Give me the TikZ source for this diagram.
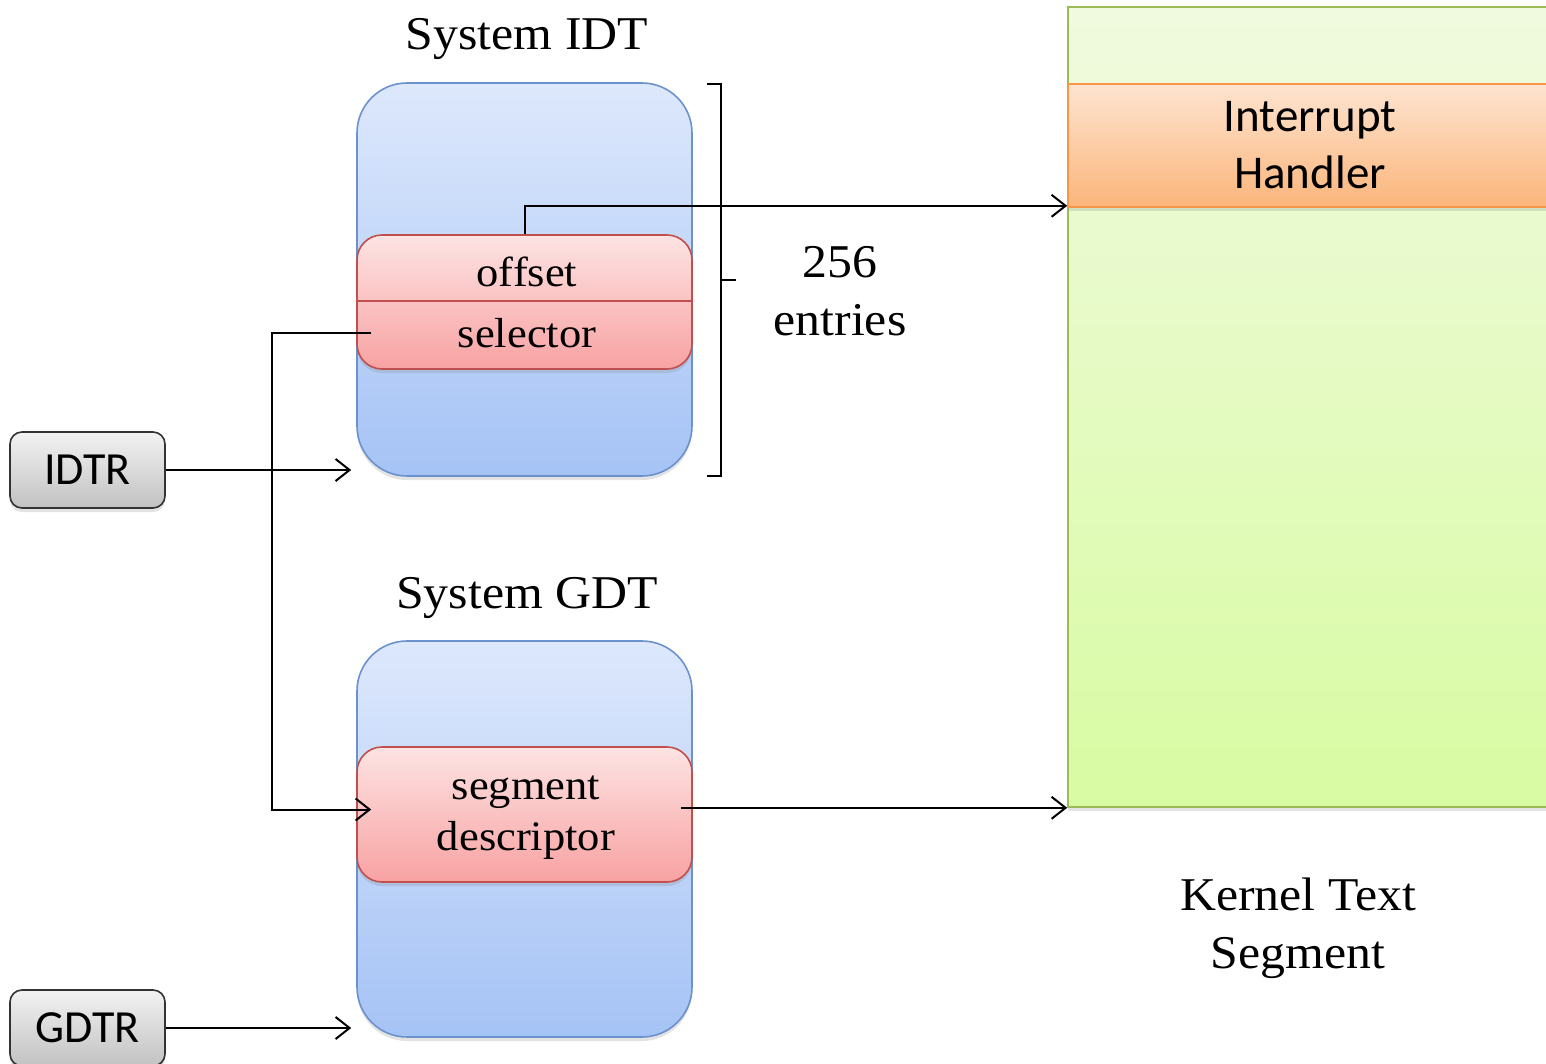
\documentclass[tikz,border=0pt]{standalone}
\usepackage{fontspec}
\setmainfont[FakeStretch=1.06]{Liberation Serif}
\newfontfamily\sansf{Carlito}
\usetikzlibrary{arrows.meta,shadows}

\definecolor{tabtop}{HTML}{DDE8FC}
\definecolor{tabbot}{HTML}{A5C3F5}
\definecolor{tabedge}{HTML}{6C92CE}
\definecolor{enttop}{HTML}{FDE3E3}
\definecolor{entbot}{HTML}{F8A2A2}
\definecolor{entedge}{HTML}{C0504D}
\definecolor{regtop}{HTML}{F2F2F2}
\definecolor{regbot}{HTML}{C2C2C2}
\definecolor{regedge}{HTML}{333333}
\definecolor{segtop}{HTML}{F0FADF}
\definecolor{segbot}{HTML}{D8FBA2}
\definecolor{segedge}{HTML}{9BBB59}
\definecolor{hndtop}{HTML}{FDE4D0}
\definecolor{hndbot}{HTML}{FBB57B}
\definecolor{hndedge}{HTML}{F79646}

\begin{document}
\begin{tikzpicture}[x=1pt,y=-1pt,
  softshadow/.style={drop shadow={opacity=0.22,shadow xshift=0pt,shadow yshift=-4pt}},
  tablebox/.style={draw=tabedge,line width=1.6pt,rounded corners=50pt,
    top color=tabtop,bottom color=tabbot,minimum width=335pt,softshadow},
  entrybox/.style={draw=entedge,line width=1.6pt,rounded corners=25pt,
    top color=enttop,bottom color=entbot,minimum width=335pt,softshadow},
  regbox/.style={draw=regedge,line width=1.6pt,rounded corners=12pt,
    top color=regtop,bottom color=regbot,minimum width=155pt,minimum height=76pt,
    softshadow,font=\sansf\fontsize{46}{56}\selectfont},
  serif/.style={inner sep=0pt,align=center,font=\fontsize{47}{58}\selectfont},
  inner/.style={inner sep=0pt,align=center,font=\fontsize{42}{51}\selectfont},
  conn/.style={line width=2pt,-{Straight Barb[length=14pt,width=22pt,line width=2pt]}},
  plainline/.style={line width=2pt}]

\clip (0,0) rectangle (1546,1064);
\fill[white] (0,0) rectangle (1546,1064);

% kernel text segment with the handler band
\node[draw=segedge,line width=1.6pt,top color=segtop,bottom color=segbot,
  minimum width=484pt,minimum height=800pt,inner sep=0pt,softshadow] (kernel) at (1310,407) {};
\node[draw=hndedge,line width=1.6pt,top color=hndtop,bottom color=hndbot,
  minimum width=484pt,minimum height=123pt,inner sep=0pt,softshadow,align=center,
  font=\sansf\fontsize{47}{57}\selectfont] (handler) at (1310,145.5) {Interrupt\\Handler};
\node[serif] (ktext) at (1298,928) {Kernel Text\\Segment};

% descriptor tables
\node[serif] (idtlabel) at (527,39) {System IDT};
\node[tablebox,minimum height=393pt] (idt) at (524.5,279.5) {};
\node[entrybox,minimum height=134pt] (entry) at (524.5,302) {};
\draw[draw=entedge,line width=1.6pt] (entry.west |- 0,301) -- (entry.east |- 0,301);
\node[inner] (ofs) at (527,272) {offset};
\node[inner] (sel) at (527,333) {selector};

\node[serif] (gdtlabel) at (527,598) {System GDT};
\node[tablebox,minimum height=396pt] (gdt) at (524.5,839) {};
\node[entrybox,minimum height=135pt] (segd) at (524.5,814.5) {};
\node[inner] (segtext) at (526,818) {segment\\descriptor};

% registers
\node[regbox] (idtr) at (87.5,470) {IDTR};
\node[regbox] (gdtr) at (87.5,1028) {GDTR};

% table size bracket
\draw[plainline] (707,84) -- (721,84) -- (721,476) -- (707,476)
  (721,280) -- (736,280);
\node[serif] (count) at (840,291) {256\\entries};

% connectors
\draw[conn] (entry.north) |- ([yshift=2pt]handler.south west);
\draw[conn] ([xshift=15pt]entry.west |- sel) -- ++(-99,0)
  |- ([xshift=15pt,yshift=5pt]segd.west);
\draw[conn] (idtr.east) -- ([xshift=-5pt]idt.west |- idtr.east);
\draw[conn] (gdtr.east) -- ([xshift=-5pt]gdt.west |- gdtr.east);
\draw[conn] ([xshift=-12pt]segd.east |- kernel.south west) -- (kernel.south west);
\end{tikzpicture}
\end{document}
